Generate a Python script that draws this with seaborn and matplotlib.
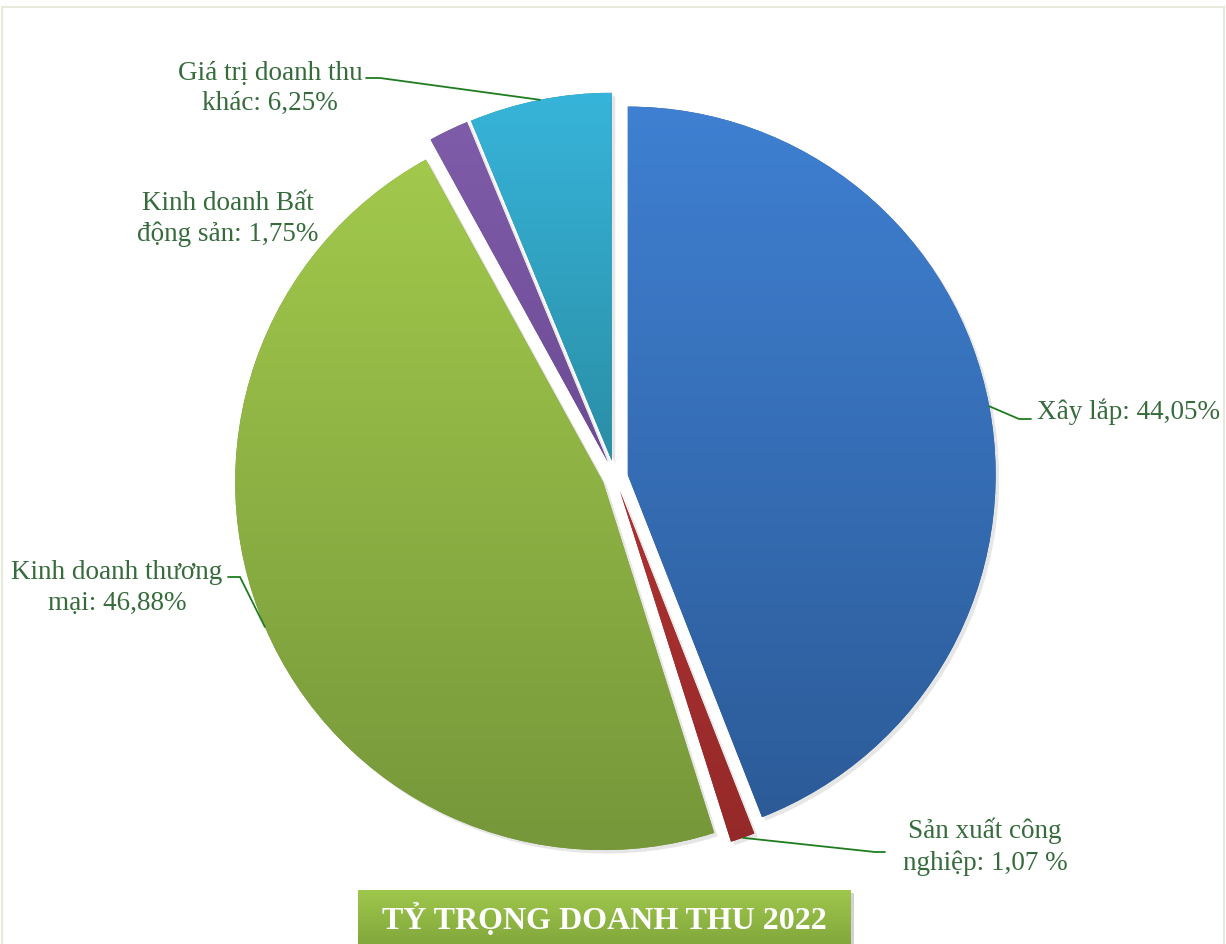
"""Revenue share pie chart 2022 (exploded, gradient-filled wedges)."""

import matplotlib
matplotlib.use("Agg")
import matplotlib.pyplot as plt
import matplotlib.patheffects as pe
from matplotlib.patches import Rectangle
import numpy as np
import seaborn as sns

# Data
categories = [
    "Xây lắp", "Sản xuất công nghiệp", "Kinh doanh thương mại",
    "Kinh doanh Bất động sản", "Giá trị doanh thu khác",
]
shares = [44.05, 1.07, 46.88, 1.75, 6.25]
labels = [
    "Xây lắp: 44,05%",
    "Sản xuất công\nnghiệp: 1,07 %",
    "Kinh doanh thương\nmại: 46,88%",
    "Kinh doanh Bất\nđộng sản: 1,75%",
    "Giá trị doanh thu\nkhác: 6,25%",
]
title = "TỶ TRỌNG DOANH THU 2022"

top_colors = ["#3f80d2", "#ad3232", "#a2c94c", "#7f5ca9", "#37b4da"]
bottom_colors = ["#2c5b98", "#952929", "#76973a", "#6c4b94", "#2a8ea5"]
explode = [0.035, 0.04, 0.035, 0.045, 0.045]

TEXT_COLOR = "#366b3c"
LEADER_COLOR = "#1f7d1f"
SERIF = ["Liberation Serif", "DejaVu Serif"]

sns.set_theme(style="white")
plt.rcParams["font.family"] = SERIF

W, H = 1226, 945
CX, CY, R_PX = 615, 478, 368


def px(x, y):
    """pixel position -> data coords (pie radius = 1)."""
    return (x - CX) / R_PX, (CY - y) / R_PX


# label layout in pixels: text anchor, ha, leader elbow, leader end
layout = [
    ((1037, 412), "left", (1019, 420), (1031, 420)),
    ((985, 847), "center", (875, 853), (885, 853)),
    ((117, 588), "center", (240, 578), (228, 578)),
    ((228, 219), "center", None, None),
    ((270, 88), "center", (380, 79), (366, 79)),
]

fig = plt.figure(figsize=(W / 100, H / 100), dpi=100)
ax = fig.add_axes([0, 0, 1, 1])

wedges, _ = ax.pie(
    shares, explode=explode, startangle=90, counterclock=False,
    radius=1, center=(0, 0), wedgeprops=dict(linewidth=0),
)

for w, top, bot in zip(wedges, top_colors, bottom_colors):
    w.set_facecolor(bot)
    w.set_path_effects([
        pe.SimplePatchShadow(offset=(2.5, -2.5), shadow_rgbFace="#909090", alpha=0.22),
        pe.Normal(),
    ])
    bb = w.get_path().get_extents(w.get_patch_transform())
    cmap = sns.blend_palette([top, bot], as_cmap=True)
    grad = np.linspace(0, 1, 256).reshape(-1, 1)
    im = ax.imshow(grad, cmap=cmap, extent=(bb.x0, bb.x1, bb.y0, bb.y1),
                   origin="upper", aspect="auto", zorder=w.get_zorder() + 0.1)
    im.set_clip_path(w)

# labels and leader lines
for w, text, (tpos, ha, elbow, end) in zip(wedges, labels, layout):
    tx, ty = px(*tpos)
    ax.text(tx, ty, text, ha=ha, va="center", multialignment="center",
            fontsize=19.5, color=TEXT_COLOR, linespacing=1.32, zorder=5)
    if elbow is None:
        continue
    mid = np.deg2rad((w.theta1 + w.theta2) / 2)
    ax0 = w.center[0] + w.r * np.cos(mid)
    ay0 = w.center[1] + w.r * np.sin(mid)
    ex, ey = px(*elbow)
    nx, ny = px(*end)
    ax.plot([ax0, ex, nx], [ay0, ey, ny], color=LEADER_COLOR, lw=1.3, zorder=5)

# title banner
bx0, by1 = px(358, 891)
bx1, by0 = px(851, 960)
banner = Rectangle((bx0, by0), bx1 - bx0, by1 - by0, facecolor="#8db342",
                   edgecolor="none", zorder=6)
banner.set_path_effects([
    pe.SimplePatchShadow(offset=(2, -2), shadow_rgbFace="#909090", alpha=0.4),
    pe.Normal(),
])
ax.add_patch(banner)
bcmap = sns.blend_palette(["#9fc74c", "#7a9f38"], as_cmap=True)
bim = ax.imshow(np.linspace(0, 1, 128).reshape(-1, 1), cmap=bcmap,
                extent=(bx0, bx1, by0, by1), origin="upper", aspect="auto", zorder=6.1)
bim.set_clip_path(banner)
tx, ty = px(604.5, 920)
ax.text(tx, ty, title, ha="center", va="center", fontsize=23,
        fontweight="bold", color="white", zorder=7)

x0, y1 = px(0, 0)
x1, y0 = px(W, H)
ax.set_xlim(x0, x1)
ax.set_ylim(y0, y1)
ax.set_aspect("auto")
ax.axis("off")

# outer frame (bottom edge runs off the canvas)
fig.patches.append(Rectangle((2 / W, -0.02), (W - 4) / W, (H - 8) / H + 0.02,
                             transform=fig.transFigure, fill=False,
                             edgecolor="#e6eadb", linewidth=1.5))

fig.savefig("out.png", dpi=100)
plt.close(fig)
